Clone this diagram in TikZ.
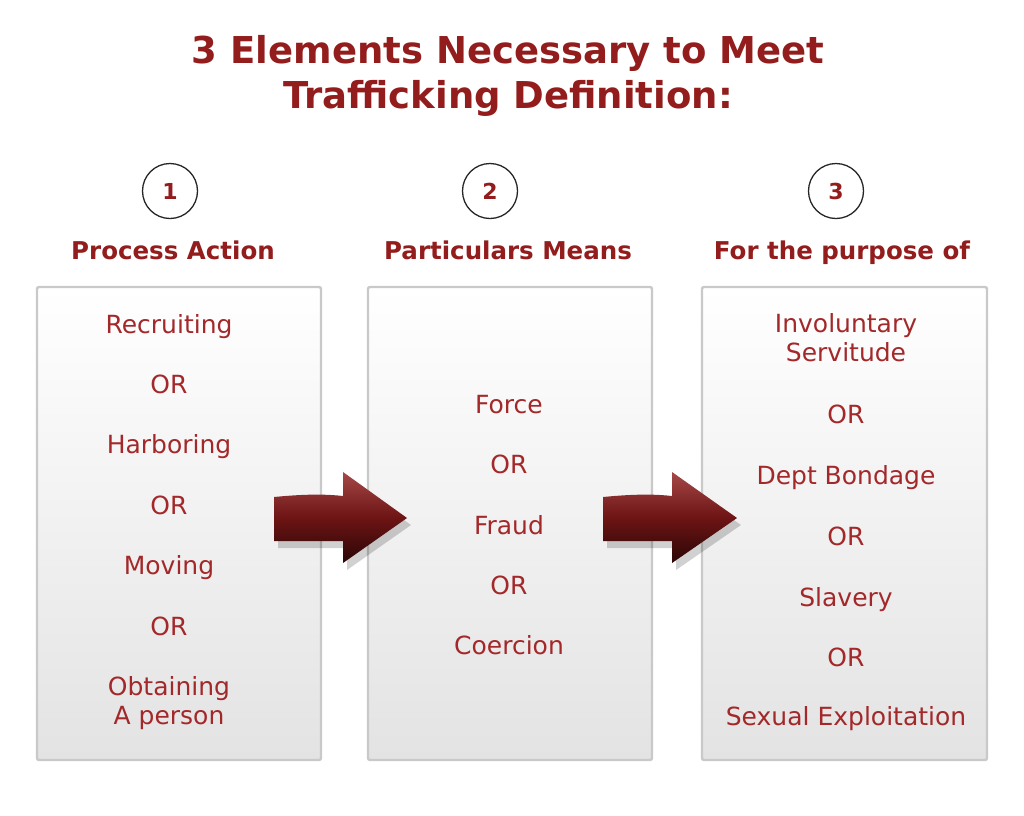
\documentclass[tikz,border=0pt]{standalone}
\usepackage{fontspec}
\setmainfont{DejaVu Sans}
\usetikzlibrary{shadings}
\definecolor{titlered}{HTML}{931C1C}
\definecolor{txtred}{HTML}{A3282A}
\definecolor{boxedge}{HTML}{C9C9C9}
\definecolor{boxbot}{HTML}{E3E3E3}
\definecolor{arrtop}{HTML}{A54848}
\definecolor{arrmid}{HTML}{6E1414}
\definecolor{arrbot}{HTML}{2A0606}
\tikzset{
  panel/.style={draw=boxedge, line width=2.4pt, rounded corners=2pt, top color=white, bottom color=boxbot},
  numcirc/.style={circle, draw=black!85, line width=1.3pt, minimum size=55pt, inner sep=0pt, text=titlered, font=\bfseries\fontsize{22}{22}\selectfont},
  header/.style={text=titlered, font=\bfseries\fontsize{24.5}{26}\selectfont, anchor=base, inner sep=0pt},
  item/.style={text=txtred, font=\fontsize{25}{29}\selectfont, anchor=base, inner sep=0pt},
  titletxt/.style={text=titlered, font=\bfseries\fontsize{37}{45}\selectfont, anchor=base, inner sep=0pt},
  bigarrow/.style={top color=arrtop, bottom color=arrbot, middle color=arrmid},
  arrshadow/.style={fill=black, opacity=0.18}
}
\begin{document}
\begin{tikzpicture}[x=1pt,y=-1pt]
\fill[white] (0,0) rectangle (1024,815);
\useasboundingbox (0,0) rectangle (1024,815);

\node[titletxt] (title1) at (508,63) {3 Elements Necessary to Meet};
\node[titletxt] (title2) at (508,108) {Trafficking Definition:};

\node[numcirc] (c1) at (170,191) {1};
\node[numcirc] (c2) at (490,191) {2};
\node[numcirc] (c3) at (836,191) {3};

\node[header] (h1) at (173,259) {Process Action};
\node[header] (h2) at (508,259) {Particulars Means};
\node[header] (h3) at (842,259) {For the purpose of};

\draw[panel] (37,287) rectangle (321,760);
\draw[panel] (368,287) rectangle (652,760);
\draw[panel] (702,287) rectangle (987,760);

% box 1
\node[item] (a1) at (169,333) {Recruiting};
\node[item] (a2) at (169,393) {OR};
\node[item] (a3) at (169,453) {Harboring};
\node[item] (a4) at (169,514) {OR};
\node[item] (a5) at (169,574) {Moving};
\node[item] (a6) at (169,635) {OR};
\node[item] (a7) at (169,695) {Obtaining};
\node[item] (a8) at (169,724) {A person};

% box 2
\node[item] (b1) at (509,413) {Force};
\node[item] (b2) at (509,473) {OR};
\node[item] (b3) at (509,534) {Fraud};
\node[item] (b4) at (509,594) {OR};
\node[item] (b5) at (509,654) {Coercion};

% box 3
\node[item] (d1) at (846,332) {Involuntary};
\node[item] (d1b) at (846,361) {Servitude};
\node[item] (d2) at (846,423) {OR};
\node[item] (d3) at (846,484) {Dept Bondage};
\node[item] (d4) at (846,545) {OR};
\node[item] (d5) at (846,606) {Slavery};
\node[item] (d6) at (846,666) {OR};
\node[item] (d7) at (846,725) {Sexual Exploitation};

% arrow 1
\fill[arrshadow] (278,503) .. controls (310,500) and (330,500) .. (347,501) -- (347,479) -- (411,525) -- (347,570) -- (347,548) -- (278,548) -- cycle;
\shade[bigarrow] (274,497) .. controls (305,494) and (325,494) .. (343,496) -- (343,472) -- (407,518) -- (343,563) -- (343,541) -- (274,541) -- cycle;
% arrow 2
\fill[arrshadow] (607,503) .. controls (638,500) and (658,500) .. (676,501) -- (676,479) -- (741,525) -- (676,570) -- (676,548) -- (607,548) -- cycle;
\shade[bigarrow] (603,497) .. controls (634,494) and (654,494) .. (672,496) -- (672,472) -- (737,518) -- (672,563) -- (672,541) -- (603,541) -- cycle;
\end{tikzpicture}
\end{document}
